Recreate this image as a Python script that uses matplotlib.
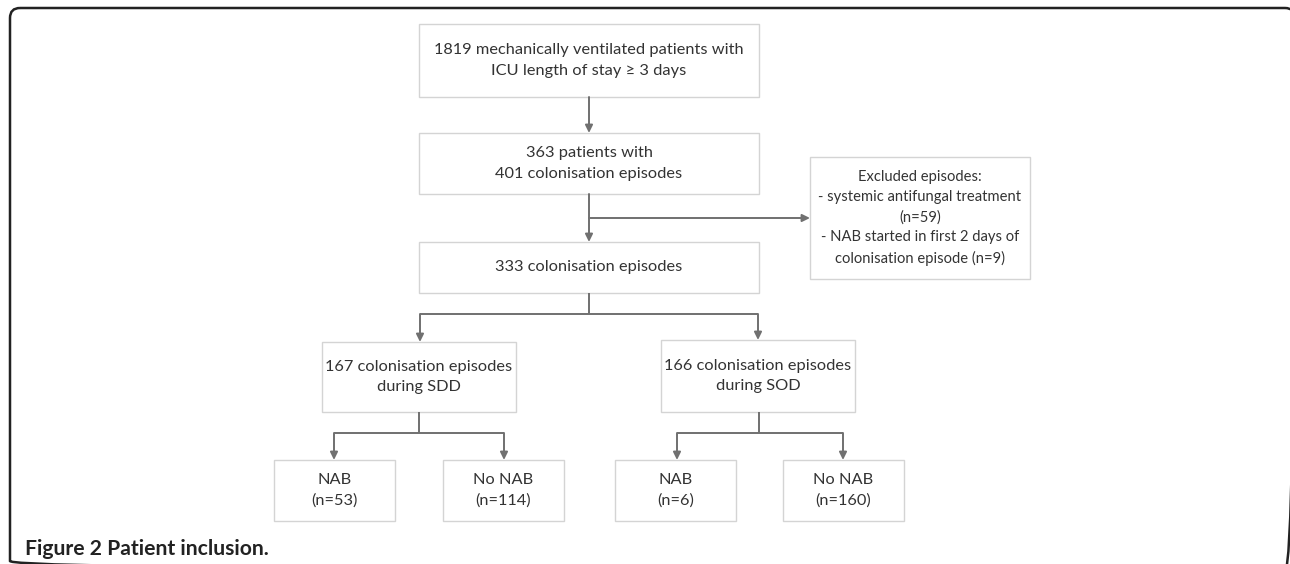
import matplotlib.pyplot as plt
from matplotlib.patches import Rectangle, FancyBboxPatch

plt.rcParams['font.family'] = ['Lato', 'DejaVu Sans']

# box texts
top_label = "1819 mechanically ventilated patients with\nICU length of stay \u2265 3 days"
patients_label = "363 patients with\n401 colonisation episodes"
excluded_label = ("Excluded episodes:\n- systemic antifungal treatment\n(n=59)\n"
                  "- NAB started in first 2 days of\ncolonisation episode (n=9)")
remaining_label = "333 colonisation episodes"
arm_labels = ["167 colonisation episodes\nduring SDD", "166 colonisation episodes\nduring SOD"]
leaf_labels = ["NAB\n(n=53)", "No NAB\n(n=114)", "NAB\n(n=6)", "No NAB\n(n=160)"]
caption = "Figure 2 Patient inclusion."

W, H = 1290, 564
fig = plt.figure(figsize=(W / 100, H / 100), dpi=100)
ax = fig.add_axes([0, 0, 1, 1])
ax.set_xlim(0, W)
ax.set_ylim(H, 0)
ax.axis('off')

txt_col = '#333333'
edge_col = '#d4d4d4'
line_col = '#707070'


def box(x0, x1, y0, y1, label, fs=11.8, ls=1.62):
    ax.add_patch(Rectangle((x0, y0), x1 - x0, y1 - y0, fill=False,
                           ec=edge_col, lw=1.0))
    ax.text((x0 + x1) / 2, (y0 + y1) / 2, label, ha='center', va='center',
            fontsize=fs, color=txt_col, linespacing=ls)


def arrow(x0, y0, x1, y1):
    ax.annotate('', xy=(x1, y1), xytext=(x0, y0),
                arrowprops=dict(arrowstyle='-|>,head_length=0.45,head_width=0.22',
                                color=line_col, lw=1.4, shrinkA=0, shrinkB=0,
                                mutation_scale=10))


def line(xs, ys):
    ax.plot(xs, ys, color=line_col, lw=1.4, solid_capstyle='butt')


# outer frame (bottom and right edges fall just outside the image)
ax.add_patch(FancyBboxPatch((10, 8), 1285, 563, boxstyle='round,pad=0,rounding_size=10',
                            fill=False, ec='#222222', lw=1.8))

box(419, 759, 24, 97, top_label)
box(419, 759, 133, 194, patients_label)
box(810, 1030, 157, 279, excluded_label, fs=10.6, ls=1.53)
box(419, 759, 242, 293, remaining_label)
box(322, 516, 342, 412, arm_labels[0])
box(661, 855, 340, 412, arm_labels[1])
box(274, 395, 460, 521, leaf_labels[0])
box(443, 564, 460, 521, leaf_labels[1])
box(615, 736, 460, 521, leaf_labels[2])
box(783, 904, 460, 521, leaf_labels[3])

arrow(589, 97, 589, 133)
arrow(589, 194, 589, 242)
arrow(589, 218, 810, 218)

line([589, 589], [293, 314])
line([420, 758], [314, 314])
arrow(420, 314, 420, 342)
arrow(758, 314, 758, 340)

line([419, 419], [412, 433])
line([334, 504], [433, 433])
arrow(334, 433, 334, 460)
arrow(504, 433, 504, 460)

line([759, 759], [412, 433])
line([677, 843], [433, 433])
arrow(677, 433, 677, 460)
arrow(843, 433, 843, 460)

ax.text(25, 549, caption, ha='left', va='center', fontsize=15.2,
        fontweight='bold', color='#222222')

fig.savefig('out.png', dpi=100)
